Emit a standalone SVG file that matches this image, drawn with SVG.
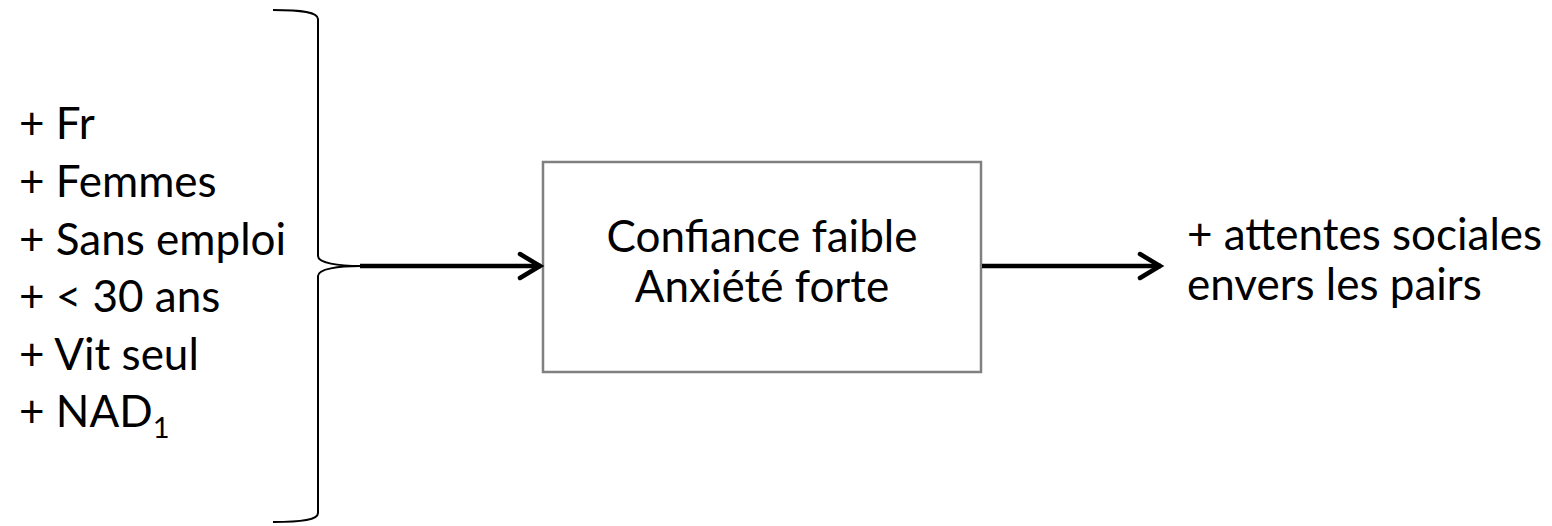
<svg xmlns="http://www.w3.org/2000/svg" width="1552" height="526" viewBox="0 0 1552 526">
<style>
text{font-family:Lato,"Liberation Sans",sans-serif;font-size:44px;fill:#000}
.conn{stroke:#000;stroke-width:4.5;fill:none}
.brace{stroke:#000;stroke-width:2;fill:none}
.box{fill:#fff;stroke:#808080;stroke-width:2.5}
</style>
<defs>
<marker id="open" markerUnits="userSpaceOnUse" markerWidth="40" markerHeight="40" viewBox="-30 -20 40 40" refX="0" refY="0" orient="auto">
<path d="M-21,-12 L-1,0 L-21,12" fill="none" stroke="#000" stroke-width="4.5" stroke-linecap="round" stroke-linejoin="miter"/>
</marker>
</defs>
<rect width="1552" height="526" fill="#fff"/>
<g id="factors">
<path class="brace" d="M273,10 C302,10 318,12 318,19 L318,256 C318,263 338,266 361,266 C338,266 318,269 318,276 L318,513 C318,520 302,522 273,522"/>
<text x="19" y="139">+ Fr</text>
<text x="19" y="197">+ Femmes</text>
<text x="19" y="255">+ Sans emploi</text>
<text x="19" y="312">+ &lt; 30 ans</text>
<text x="19" y="370">+ Vit seul</text>
<text x="19" y="427">+ NAD<tspan font-size="29" dy="11">1</tspan></text>
</g>
<g id="center">
<rect class="box" x="543" y="162" width="438" height="210"/>
<text x="762" y="252" text-anchor="middle">Confiance faible</text>
<text x="762" y="302" text-anchor="middle">Anxiété forte</text>
</g>
<g id="result">
<text x="1187" y="250">+ attentes sociales</text>
<text x="1187" y="300">envers les pairs</text>
</g>
<g id="connectors">
<line class="conn" x1="360" y1="266" x2="541" y2="266" marker-end="url(#open)"/>
<line class="conn" x1="982" y1="266" x2="1161" y2="266" marker-end="url(#open)"/>
</g>
</svg>
